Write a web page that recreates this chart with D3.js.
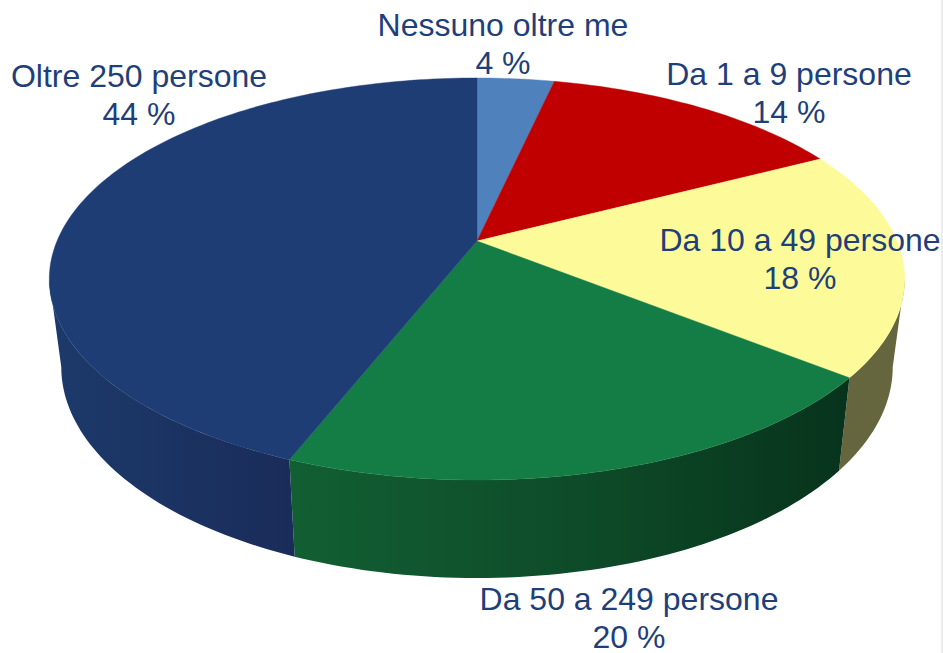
<!DOCTYPE html>
<html><head><meta charset="utf-8">
<script src="https://cdn.jsdelivr.net/npm/d3@7"></script>
<style>html,body{margin:0;padding:0;background:#fff}svg{display:block}</style>
</head><body><svg id="c" width="943" height="653"></svg>
<script>
const categories = ["Nessuno oltre me","Da 1 a 9 persone","Da 10 a 49 persone","Da 50 a 249 persone","Oltre 250 persone"];
const sliceShares = [3.5,13.9,18.3,20.3,44];
const percentLabels = ["4 %","14 %","18 %","20 %","44 %"];
const topColors = ["#4f81bd","#c00000","#fdfb99","#147d45","#1f3d75"];
const sideStops = [["#3c6290","#3c6290"],["#800000","#800000"],["#65653e","#65653e"],["#125f33","#0e4c29","#07331c"],["#1c3a6a","#1a2c5a"]];
const labelAnchors = [[503,36],[789,85],[800,251],[629,610],[139,87]];

const W=943,H=653;
const svg=d3.select("#c");
const defs=svg.append("defs");
// perspective projection of the pie disc
const apexX=477, apexY=241, persp=0.189, yK=-148.3, xK=420;
const topPt=a=>{const u=Math.sin(a),v=Math.cos(a),w=1+persp*v;return [apexX+xK*u/w,(yK*v+apexY)/w];};
const botPt=a=>{const p=topPt(a);return [apexX+(p[0]-apexX)*0.972,p[1]*1.05+74];};
const arcs=d3.pie().sort(null).value(d=>d)(sliceShares);
const step=Math.PI/180*1.2;
const line=d3.line();
const samples=(a0,a1)=>{const n=Math.max(1,Math.ceil((a1-a0)/step));return d3.range(n+1).map(i=>a0+(a1-a0)*i/n);};
// angles at which the rim is tangent to the vertical silhouette
const silhouette=Math.acos(-persp);

// side wall
const gSide=svg.append("g");
arcs.forEach((s,i)=>{
  const a0=Math.max(s.startAngle,silhouette), a1=Math.min(s.endAngle,2*Math.PI-silhouette);
  if(a1<=a0) return;
  const as=samples(a0,a1);
  const xs=as.map(a=>topPt(a)[0]);
  const st=sideStops[i];
  const id="side"+i;
  const lg=defs.append("linearGradient").attr("id",id).attr("gradientUnits","userSpaceOnUse")
    .attr("x1",d3.min(xs)).attr("x2",d3.max(xs)).attr("y1",0).attr("y2",0);
  st.forEach((c,k)=>lg.append("stop").attr("offset",k/(st.length-1)).attr("stop-color",c));
  const pts=as.map(topPt).concat(as.slice().reverse().map(botPt));
  gSide.append("path").attr("d",line(pts)+"Z").attr("fill",`url(#${id})`);
});
// top face
const gTop=svg.append("g");
arcs.forEach((s,i)=>{
  const pts=[[apexX,apexY]].concat(samples(s.startAngle,s.endAngle).map(topPt));
  gTop.append("path").attr("d",line(pts)+"Z").attr("fill",topColors[i]).attr("stroke",topColors[i]).attr("stroke-width",0.4);
});
// labels
const gL=svg.append("g").attr("font-family","'Liberation Sans',Arial,sans-serif").attr("font-size",32).attr("fill","#1f3f7a").attr("text-anchor","middle");
categories.forEach((c,i)=>{
  const [x,y]=labelAnchors[i];
  gL.append("text").attr("x",x).attr("y",y).text(c);
  gL.append("text").attr("x",x).attr("y",y+37.5).text(percentLabels[i]);
});
// right-edge strip
svg.append("rect").attr("x",W-2).attr("y",0).attr("width",2).attr("height",H).attr("fill","#ececec");
</script></body></html>
